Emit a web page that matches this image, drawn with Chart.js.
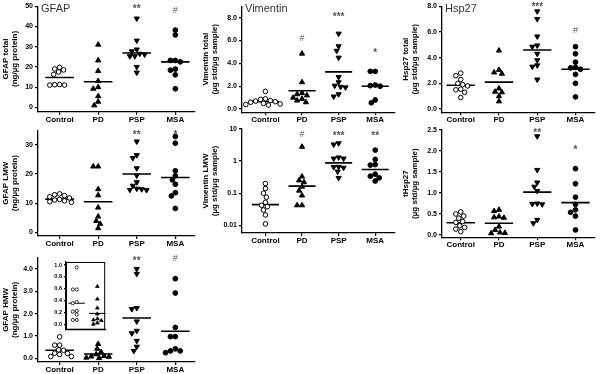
<!DOCTYPE html>
<html>
<head>
<meta charset="utf-8">
<script src="https://cdn.jsdelivr.net/npm/chart.js@4/dist/chart.umd.min.js"></script>
<style>
body { margin: 0; background: #fff; }
#wrap { position: relative; width: 600px; height: 374px; }
canvas { position: absolute; }
</style>
</head>
<body>
<div id="wrap"></div>
<script>
// groups on the x axis
const groups = ['Control', 'PD', 'PSP', 'MSA'];

// GFAP total (ng/ug protein)
const gfapTotalCtrl = [19.8, 19, 18.5, 17.5, 16.3, 11.3, 11.2, 11, 11];
const gfapTotalPD = [31, 23.2, 18, 13, 10, 9.2, 5.5, 2.8, 1];
const gfapTotalPSP = [43.9, 33, 28.6, 27.7, 26.5, 26.1, 25.3, 25.3, 20, 17.2];
const gfapTotalMSA = [38.2, 35.8, 23.2, 23.2, 22.5, 18.9, 18.4, 16.1, 9.2];
const gfapTotalMean = [14.8, 12.7, 26.9, 22.5];
const gfapTotalSig = [null, null, '**', '#'];
const gfapTotalSigAt = [null, null, 50, 48.4];
const gfapTotalTicks = [0, 10, 20, 30, 40, 50];

// Vimentin total (ug std/ug sample)
const vimTotalCtrl = [1.55, 0.9, 0.85, 0.75, 0.7, 0.65, 0.6, 0.5, 0.45, 0.4, 0.35];
const vimTotalPD = [4.85, 2.35, 1.4, 1.3, 1.2, 1.0, 0.9, 0.75, 0.6];
const vimTotalPSP = [6.6, 5.5, 5.1, 4.5, 2.8, 2.35, 2.05, 1.95, 1.9, 1.3, 1.1];
const vimTotalMSA = [3.3, 3.3, 2.1, 2.05, 2.0, 0.8, 0.55];
const vimTotalMean = [0.65, 1.6, 3.26, 2.0];
const vimTotalSig = [null, '#', '***', '*'];
const vimTotalSigAt = [null, 6.3, 8.35, 5.15];
const vimTotalTicks = [0, 2, 4, 6, 8];

// Hsp27 total (ug std/ug sample)
const hspTotalCtrl = [2.8, 2.6, 2.3, 2.0, 1.9, 1.8, 1.55, 1.5, 1.3, 0.9];
const hspTotalPD = [4.55, 3.05, 2.85, 2.75, 1.6, 1.35, 1.3, 1.0, 0.6];
const hspTotalPSP = [7.6, 7.0, 5.65, 4.95, 4.85, 4.3, 3.8, 3.4, 3.3, 2.3];
const hspTotalMSA = [4.85, 4.3, 3.65, 3.25, 3.2, 3.1, 2.7, 2.0, 0.95];
const hspTotalMean = [1.85, 2.1, 4.6, 3.1];
const hspTotalSig = [null, null, '***', '#'];
const hspTotalSigAt = [null, null, 8.2, 6.2];
const hspTotalTicks = [0, 2, 4, 6, 8];

// GFAP LMW (ng/ug protein)
const gfapLmwCtrl = [13.2, 12.9, 12.6, 12.2, 11.8, 11.3, 11.1, 10.8, 10.5, 10.3];
const gfapLmwPD = [22.6, 22.6, 14.8, 12.7, 8.5, 5.4, 3.9, 2.9, 1.4];
const gfapLmwPSP = [31.2, 26.5, 25.5, 22, 19.5, 17.2, 16, 15, 14.8, 14.6, 14.5];
const gfapLmwMSA = [32.9, 30.6, 21.1, 19.4, 18, 16.5, 13.6, 12.5, 8.2];
const gfapLmwMean = [11.4, 10.5, 20, 18.8];
const gfapLmwSig = [null, null, '**', '*'];
const gfapLmwSigAt = [null, null, 34.6, 34.6];
const gfapLmwTicks = [0, 10, 20, 30];

// Vimentin LMW (ug std/ug sample), log axis
const vimLmwCtrl = [0.2, 0.14, 0.1, 0.075, 0.052, 0.042, 0.038, 0.03, 0.021, 0.011];
const vimLmwPD = [2.8, 0.33, 0.25, 0.22, 0.16, 0.12, 0.085, 0.042, 0.042];
const vimLmwPSP = [3.6, 3.3, 1.3, 1.2, 1.2, 0.66, 0.65, 0.62, 0.47, 0.3];
const vimLmwMSA = [2.2, 1.13, 0.78, 0.75, 0.39, 0.34, 0.3, 0.24];
const vimLmwMean = [0.044, 0.166, 0.88, 0.55];
const vimLmwSig = [null, '#', '***', '**'];
const vimLmwSigAt = [null, 7, 7.3, 7.3];
const vimLmwTicks = [0.01, 0.1, 1, 10];

// tHsp27 (ug std/ug sample)
const tHspCtrl = [0.55, 0.5, 0.45, 0.4, 0.32, 0.3, 0.22, 0.18, 0.14, 0.08];
const tHspPD = [0.6, 0.57, 0.44, 0.42, 0.41, 0.2, 0.12, 0.06, 0.05, 0.04];
const tHspPSP = [2.35, 1.55, 1.25, 1.15, 1.05, 0.75, 0.74, 0.73, 0.36, 0.28];
const tHspMSA = [1.58, 1.22, 0.9, 0.73, 0.6, 0.54, 0.45, 0.12];
const tHspMean = [0.29, 0.28, 1.02, 0.77];
const tHspSig = [null, null, '**', '*'];
const tHspSigAt = [null, null, 2.5, 2.1];
const tHspTicks = [0, 0.5, 1, 1.5, 2, 2.5];

// GFAP HMW (ng/ug protein)
const gfapHmwCtrl = [0.96, 0.59, 0.59, 0.38, 0.36, 0.23, 0.22, 0.17, 0.08, 0.08];
const gfapHmwPD = [0.64, 0.43, 0.28, 0.18, 0.1, 0.08, 0.07, 0.03, 0.01];
const gfapHmwPSP = [4.0, 3.78, 2.25, 2.2, 1.65, 1.23, 1.12, 0.78, 0.52, 0.33];
const gfapHmwMSA = [3.56, 2.92, 1.38, 0.97, 0.97, 0.42, 0.33, 0.33, 0.25];
const gfapHmwMean = [0.36, 0.19, 1.8, 1.21];
const gfapHmwSig = [null, null, '**', '#'];
const gfapHmwSigAt = [null, null, 4.5, 4.5];
const gfapHmwTicks = [0, 1, 2, 3, 4];
const insetTicks = [0, 0.2, 0.4, 0.6, 0.8, 1.0];

const FONT = '"Liberation Sans", Arial, sans-serif';

const pointLooks = [
  { pointStyle: 'circle', pointBackgroundColor: '#fff', pointRadius: 2.3, pointRotation: 0 },
  { pointStyle: 'triangle', pointBackgroundColor: '#000', pointRadius: 3, pointRotation: 0 },
  { pointStyle: 'triangle', pointBackgroundColor: '#000', pointRadius: 3, pointRotation: 180 },
  { pointStyle: 'circle', pointBackgroundColor: '#000', pointRadius: 2.4, pointRotation: 0 }
];

// value -> relative pixel, used only to spread overlapping points sideways
function pxFn(p) {
  const h = p.plotB - p.plotT;
  if (p.log) {
    const k = h / (Math.log10(p.ymax) - Math.log10(p.ymin));
    return v => -Math.log10(v) * k;
  }
  const k = h / (p.ymax - p.ymin);
  return v => -v * k;
}

function swarm(vals, toPx, spacing, d) {
  const order = vals.map((v, i) => i).sort((a, b) => toPx(vals[a]) - toPx(vals[b]));
  const placed = [];
  const offs = [];
  order.forEach(i => {
    const py = toPx(vals[i]);
    for (let s = 0; s < 80; s++) {
      const ox = (s % 2 ? -1 : 1) * Math.ceil(s / 2);
      if (placed.every(q => Math.hypot(q[0] - ox, q[1] - py) >= d)) {
        placed.push([ox, py]);
        offs[i] = ox / spacing;
        break;
      }
    }
  });
  return offs;
}

function marksPlugin(name, sig, sigAt) {
  return {
    id: 'marks',
    afterDatasetsDraw(chart) {
      const { ctx, chartArea, scales } = chart;
      ctx.save();
      if (name) {
        ctx.font = '11px ' + FONT;
        ctx.fillStyle = '#333';
        ctx.textAlign = 'left';
        ctx.textBaseline = 'top';
        ctx.fillText(name, chartArea.left + 3, 3);
      }
      if (sig) {
        ctx.fillStyle = '#555';
        ctx.textAlign = 'center';
        ctx.textBaseline = 'alphabetic';
        sig.forEach((s, i) => {
          if (!s) return;
          const x = scales.x.getPixelForValue(i);
          const y = scales.y.getPixelForValue(sigAt[i]);
          if (s[0] === '*') {
            ctx.font = 'bold 10px ' + FONT;
            ctx.fillText(s, x, y + 6);
          } else {
            ctx.font = '9px ' + FONT;
            ctx.fillText(s, x, y + 3.5);
          }
        });
      }
      ctx.restore();
    }
  };
}

function makePanel(p) {
  const cv = document.createElement('canvas');
  cv.width = p.W; cv.height = p.H;
  cv.style.left = p.left + 'px'; cv.style.top = p.top + 'px';
  document.getElementById('wrap').appendChild(cv);

  const toPx = pxFn(p);
  const datasets = p.series.map((vals, i) => {
    const offs = swarm(vals, toPx, p.spacing, p.dot || 4.8);
    return Object.assign({
      data: vals.map((v, j) => ({ x: i + offs[j], y: v })),
      pointBorderColor: '#000',
      pointBorderWidth: 1,
      showLine: false,
      clip: false
    }, pointLooks[i], p.small ? { pointRadius: pointLooks[i].pointRadius * 0.7, pointBorderWidth: 0.8 } : {});
  });
  const meanPts = [];
  p.mean.forEach((m, i) => {
    meanPts.push({ x: i - p.half, y: m }, { x: i + p.half, y: m }, { x: i + 0.5, y: null });
  });
  datasets.push({
    data: meanPts, showLine: true, spanGaps: false, pointRadius: 0,
    borderColor: '#000', borderWidth: p.small ? 1 : 1.6, clip: false
  });

  const plugins = [marksPlugin(p.name, p.sig, p.sigAt)];
  if (p.small) {
    plugins.push({
      id: 'box',
      beforeDraw(chart) {
        const a = chart.chartArea, ctx = chart.ctx;
        ctx.save(); ctx.fillStyle = '#fff';
        ctx.fillRect(a.left, a.top, a.right - a.left, a.bottom - a.top);
        ctx.restore();
      },
      afterDraw(chart) {
        const a = chart.chartArea, ctx = chart.ctx;
        ctx.save(); ctx.strokeStyle = '#000'; ctx.lineWidth = 1;
        ctx.strokeRect(a.left + 0.5, a.top + 0.5, a.right - a.left - 1, a.bottom - a.top - 1);
        ctx.restore();
      }
    });
  }

  new Chart(cv, {
    type: 'scatter',
    data: { datasets },
    plugins,
    options: {
      responsive: false,
      animation: false,
      events: [],
      layout: { padding: { top: p.plotT, right: p.W - p.plotR, left: 0, bottom: 0 } },
      plugins: { legend: { display: false }, tooltip: { enabled: false } },
      scales: {
        x: {
          type: 'linear', min: p.xmin, max: p.xmax,
          afterBuildTicks: s => { s.ticks = p.small ? [] : groups.map((g, i) => ({ value: i })); },
          afterFit: s => { s.height = p.H - p.plotB; },
          ticks: {
            display: !p.small, autoSkip: false, maxRotation: 0, padding: 0, color: '#000',
            font: { family: FONT, size: 8, weight: 'bold' },
            callback: v => groups[v]
          },
          grid: { drawOnChartArea: false, drawTicks: !p.small, tickLength: 3, color: '#000', lineWidth: 1.2 },
          border: { color: '#000', width: 1.3 }
        },
        y: {
          type: p.log ? 'logarithmic' : 'linear', min: p.ymin, max: p.ymax,
          afterBuildTicks: s => { s.ticks = p.ticks.map(v => ({ value: v })); },
          afterFit: s => { s.width = p.plotL; },
          ticks: {
            padding: 2, color: '#000',
            font: { family: FONT, size: p.small ? 5.5 : 7, weight: 'bold' },
            callback: v => p.fmt(v)
          },
          grid: { drawOnChartArea: false, tickLength: p.small ? 2 : 3, color: '#000', lineWidth: 1.2 },
          border: { color: '#000', width: 1.3 },
          title: p.title ? {
            display: true, text: p.title, color: '#000', padding: { top: 2, bottom: 0 },
            font: { family: FONT, size: 8, weight: 'bold', lineHeight: 1.05 }
          } : { display: false }
        }
      }
    }
  });
}

const f0 = v => String(v);
const f1 = v => v.toFixed(1);
const fLog = v => String(v);

// column geometry
const col0 = { left: 0, plotL: 38, plotR: 198, xmin: -0.56, xmax: 3.51, spacing: 39.3 };
const col1 = { left: 200, plotL: 42, plotR: 198, xmin: -0.64, xmax: 3.54, spacing: 37.3 };
const col2 = { left: 400, plotL: 42, plotR: 198, xmin: -0.49, xmax: 3.51, spacing: 39 };
const row0 = { top: 0, H: 124 };
const row1 = { top: 120, H: 127 };
const row2 = { top: 245, H: 129 };

makePanel(Object.assign({}, col0, row0, {
  W: 200, plotT: 4, plotB: 111.7, ymin: -2.13, ymax: 50, half: 0.37,
  series: [gfapTotalCtrl, gfapTotalPD, gfapTotalPSP, gfapTotalMSA], mean: gfapTotalMean,
  sig: gfapTotalSig, sigAt: gfapTotalSigAt, ticks: gfapTotalTicks, fmt: f0,
  name: 'GFAP', title: ['GFAP total', '(ng/µg protein)']
}));
makePanel(Object.assign({}, col1, row0, {
  W: 200, plotT: 4, plotB: 112.3, ymin: -0.28, ymax: 9, half: 0.37,
  series: [vimTotalCtrl, vimTotalPD, vimTotalPSP, vimTotalMSA], mean: vimTotalMean,
  sig: vimTotalSig, sigAt: vimTotalSigAt, ticks: vimTotalTicks, fmt: f1,
  name: 'Vimentin', title: ['Vimentin total', '(µg std/µg sample)']
}));
makePanel(Object.assign({}, col2, row0, {
  W: 200, plotT: 4, plotB: 112.3, ymin: -0.25, ymax: 8, half: 0.37,
  series: [hspTotalCtrl, hspTotalPD, hspTotalPSP, hspTotalMSA], mean: hspTotalMean,
  sig: hspTotalSig, sigAt: hspTotalSigAt, ticks: hspTotalTicks, fmt: f1,
  name: 'Hsp27', title: ['Hsp27 total', '(µg std/µg sample)']
}));
makePanel(Object.assign({}, col0, row1, {
  W: 200, plotT: 10.4, plotB: 116, ymin: -1.27, ymax: 35, half: 0.37,
  series: [gfapLmwCtrl, gfapLmwPD, gfapLmwPSP, gfapLmwMSA], mean: gfapLmwMean,
  sig: gfapLmwSig, sigAt: gfapLmwSigAt, ticks: gfapLmwTicks, fmt: f0,
  title: ['GFAP LMW', '(ng/µg protein)']
}));
makePanel(Object.assign({}, col1, row1, {
  W: 200, plotT: 9, plotB: 113, ymin: 0.00575, ymax: 10, log: true, half: 0.37,
  series: [vimLmwCtrl, vimLmwPD, vimLmwPSP, vimLmwMSA], mean: vimLmwMean,
  sig: vimLmwSig, sigAt: vimLmwSigAt, ticks: vimLmwTicks, fmt: fLog,
  title: ['Vimentin LMW', '(µg std/µg sample)']
}));
makePanel(Object.assign({}, col2, row1, {
  W: 200, plotT: 10, plotB: 117.3, ymin: -0.055, ymax: 2.5, half: 0.37,
  series: [tHspCtrl, tHspPD, tHspPSP, tHspMSA], mean: tHspMean,
  sig: tHspSig, sigAt: tHspSigAt, ticks: tHspTicks, fmt: f1,
  title: ['tHsp27', '(µg std/µg sample)']
}));
makePanel(Object.assign({}, col0, row2, {
  W: 200, plotT: 12.7, plotB: 117, ymin: -0.165, ymax: 4.5, half: 0.37,
  series: [gfapHmwCtrl, gfapHmwPD, gfapHmwPSP, gfapHmwMSA], mean: gfapHmwMean,
  sig: gfapHmwSig, sigAt: gfapHmwSigAt, ticks: gfapHmwTicks, fmt: f1,
  title: ['GFAP HMW', '(ng/µg protein)']
}));
// inset: Control and PD on a 0-1 scale
makePanel({
  left: 40, top: 255, W: 70, H: 80, plotL: 26, plotR: 66, plotT: 7, plotB: 75,
  xmin: -0.52, xmax: 1.38, spacing: 21, ymin: -0.083, ymax: 1.05, half: 0.4,
  small: true, dot: 3.6,
  series: [gfapHmwCtrl, gfapHmwPD], mean: gfapHmwMean.slice(0, 2),
  ticks: insetTicks, fmt: f1
});
</script>
</body>
</html>
